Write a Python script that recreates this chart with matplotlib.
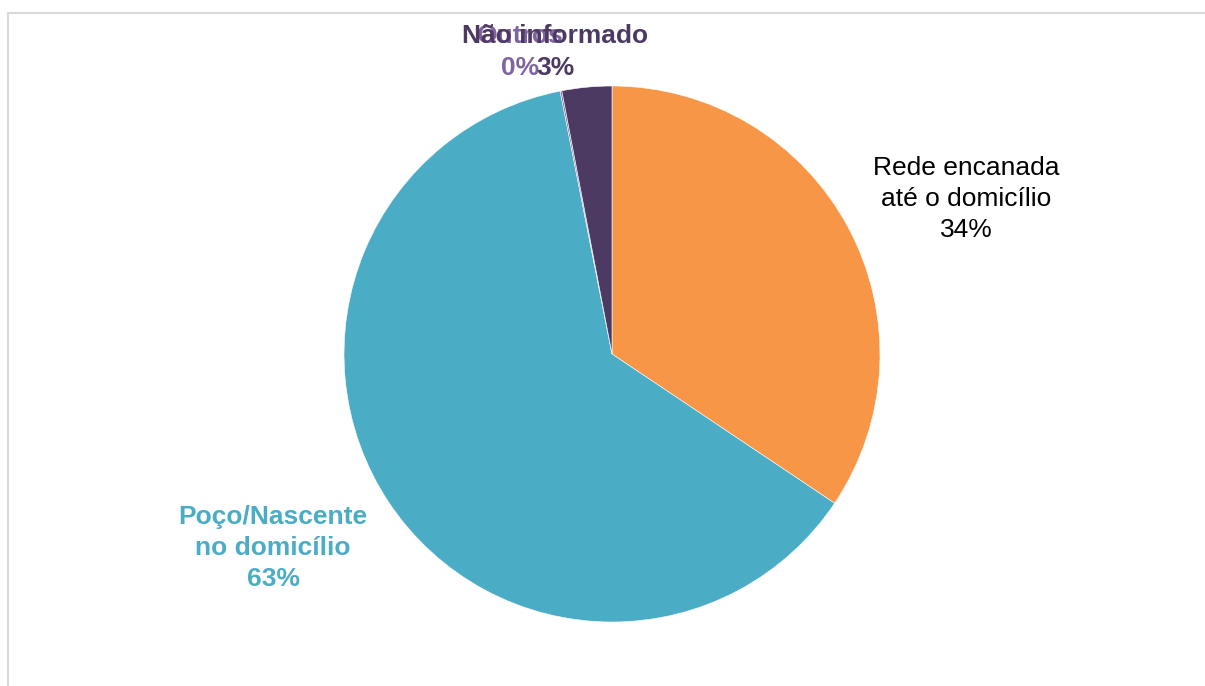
import matplotlib
matplotlib.use("Agg")
import matplotlib.pyplot as plt
from matplotlib.patches import Rectangle

categories = ["Rede encanada\naté o domicílio", "Poço/Nascente\nno domicílio", "Outros", "Não informado"]
values = [34.4, 62.5, 0.1, 3.0]
pct_labels = ["34%", "63%", "0%", "3%"]
colors = ["#F79646", "#4BACC6", "#8064A2", "#4D3A62"]
label_colors = ["#000000", "#4BACC6", "#8064A2", "#4D3A62"]
label_weights = ["normal", "bold", "bold", "bold"]

W, H = 1205, 686
fig = plt.figure(figsize=(W / 100, H / 100), dpi=100)
ax = fig.add_axes([0, 0, 1, 1])
ax.set_xlim(0, W)
ax.set_ylim(0, H)
ax.set_aspect("equal")
ax.axis("off")

# chart border
ax.add_patch(Rectangle((8, -10), W + 20, H - 13 + 10, fill=False,
                       edgecolor="#D9D9D9", linewidth=1.5))

cx, cy, r = 612, H - 354, 268
ax.pie(values, colors=colors, startangle=90, counterclock=False,
       center=(cx, cy), radius=r,
       wedgeprops=dict(linewidth=0.4, edgecolor="white"))
ax.set_xlim(0, W)
ax.set_ylim(0, H)

# label positions (pixel coords from top-left)
label_pos = [(966, 199), (273, 548), (520, 52), (555, 52)]
for i in range(len(categories)):
    x, y = label_pos[i]
    ax.text(x, H - y, categories[i] + "\n" + pct_labels[i], ha="center", va="center",
            fontsize=19, family=["Liberation Sans", "DejaVu Sans"],
            color=label_colors[i], fontweight=label_weights[i],
            linespacing=1.37, zorder=5 + i)

fig.savefig("out.png", dpi=100)
